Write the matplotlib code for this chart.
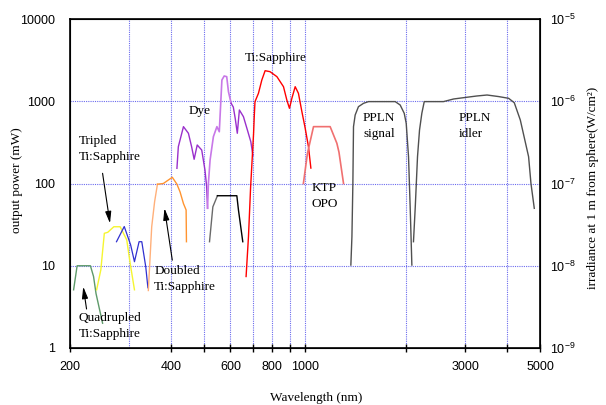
import matplotlib
matplotlib.use('Agg')
import matplotlib.pyplot as plt
from matplotlib.ticker import FixedLocator, NullFormatter, NullLocator

# wavelength (nm) / output power (mW)
quad_wl = [205, 210, 230, 235, 239, 250]
quad_mw = [5.1, 10, 10, 7.4, 4.6, 2.0]

trip_wl = [240, 247, 253, 259, 270, 282, 295, 302, 311]
trip_mw = [5.1, 8.9, 24.8, 25.5, 29.8, 29.8, 20.6, 10.7, 5.1]

blue_wl = [275, 290, 303, 311, 321, 327, 336, 341]
blue_mw = [19.6, 30, 17.9, 11.2, 19.6, 19.6, 9.7, 5.4]

dbl_light_wl = [342, 350, 357, 364]
dbl_light_mw = [5, 29.8, 60, 98]
dbl_wl = [364, 379, 403, 416, 425, 435, 443, 444]
dbl_mw = [98, 100, 119, 98, 79, 57, 47.6, 19.6]

dye_a_wl = [416, 420, 435, 450, 460, 468, 478, 493, 504, 510, 513]
dye_a_mw = [153, 280, 491, 408, 280, 197, 294, 255, 146, 91, 50]
dye_b_wl = [513, 516, 522, 534, 547, 556, 566, 575, 585, 592, 603]
dye_b_mw = [50, 100, 193, 371, 491, 426, 1812, 2028, 1990, 1307, 944]
dye_c_wl = [603, 612, 620, 629, 638, 656, 674, 690, 700]
dye_c_mw = [944, 850, 620, 408, 783, 649, 447, 322, 220]

blk_gray_wl = [520, 532, 549]
blk_gray_mw = [19.6, 52, 71]
blk_wl = [549, 627, 634, 653]
blk_mw = [71, 71, 47.6, 19.6]

tisa_wl = [668, 679, 689, 696, 703, 707, 710, 727, 744, 761, 787, 825, 863,
           883, 899, 914, 935, 956, 979, 1001, 1024, 1041]
tisa_mw = [7.4, 22.6, 90, 190, 400, 700, 988, 1249, 1812, 2352, 2288, 1990,
           1503, 1035, 821, 1086, 1503, 1249, 746, 473, 280, 154]

ktp_wl = [989, 1017, 1060, 1188, 1244, 1262, 1302]
ktp_mw = [100, 233, 491, 491, 308, 240, 100]

sig_wl = [1369, 1379, 1388, 1394, 1410, 1442, 1493, 1545, 1855, 1919, 1973,
          2000, 2032, 2055, 2079]
sig_mw = [10.2, 22.6, 100, 491, 680, 859, 944, 990, 990, 900, 714, 539, 212,
          52, 10.2]

idl_wl = [2102, 2128, 2161, 2191, 2226, 2263, 2582, 2766, 2962, 3246, 3479,
          3766, 4033, 4192, 4369, 4624, 4700, 4808]
idl_mw = [19.6, 52, 212, 447, 714, 990, 990, 1065, 1105, 1159, 1191, 1140,
          1086, 960, 592, 212, 100, 49.9]

xtick_vals = [200, 400, 600, 800, 1000, 3000, 5000]
xminor_vals = [500, 700, 900, 2000, 4000]
xgrid_vals = [300, 400, 500, 600, 700, 800, 900, 1000, 2000, 3000, 4000]
ytick_vals = [1, 10, 100, 1000, 10000]
ygrid_vals = [10, 100, 1000]
irr_ticks = [1e-9, 1e-8, 1e-7, 1e-6, 1e-5]

plt.rcParams['font.family'] = ['Liberation Sans', 'DejaVu Sans']
plt.rcParams['mathtext.default'] = 'regular'
serif = ['Liberation Serif', 'DejaVu Serif']

fig = plt.figure(figsize=(6.06, 4.05), dpi=100)
ax = fig.add_axes([70/606, 1 - 348/405, 470/606, 329/405])

grid = dict(color='#3a3ae8', linestyle=(0, (1, 1)), lw=0.8, alpha=0.75,
            zorder=0)
for g in xgrid_vals:
    ax.axvline(g, **grid)
for g in ygrid_vals:
    ax.axhline(g, **grid)

ax.plot(quad_wl, quad_mw, color='#5e9a6a', lw=1.0)
ax.plot(trip_wl, trip_mw, color='#f5f530', lw=1.0)
ax.plot(blue_wl, blue_mw, color='#3030d0', lw=0.9)
ax.plot(dbl_light_wl, dbl_light_mw, color='#ffb07a', lw=1.0)
ax.plot(dbl_wl, dbl_mw, color='#ff9430', lw=1.0)
ax.plot(dye_a_wl, dye_a_mw, color='#9a30cc', lw=1.0)
ax.plot(dye_b_wl, dye_b_mw, color='#c878e8', lw=1.2)
ax.plot(dye_c_wl, dye_c_mw, color='#9a30cc', lw=1.0)
ax.plot(blk_gray_wl, blk_gray_mw, color='#6a6a6a', lw=1.0)
ax.plot(blk_wl, blk_mw, color='black', lw=1.0)
ax.plot(tisa_wl, tisa_mw, color='#ff0000', lw=1.0)
ax.plot(ktp_wl, ktp_mw, color='#f07070', lw=1.2)
ax.plot(sig_wl, sig_mw, color='#505050', lw=1.0)
ax.plot(idl_wl, idl_mw, color='#505050', lw=1.0)

ax.set_xscale('log')
ax.set_yscale('log')
ax.set_xlim(200, 5000)
ax.set_ylim(1, 10000)

ax.xaxis.set_major_locator(FixedLocator(xtick_vals))
ax.xaxis.set_minor_locator(FixedLocator(xminor_vals))
ax.set_xticklabels([str(v) for v in xtick_vals])
ax.xaxis.set_minor_formatter(NullFormatter())
ax.yaxis.set_major_locator(FixedLocator(ytick_vals))
ax.yaxis.set_minor_locator(NullLocator())
ax.set_yticklabels([str(v) for v in ytick_vals])

ax.tick_params(axis='x', which='both', direction='inout', length=6, width=1,
               labelsize=9, pad=6)
ax.tick_params(axis='y', length=0, labelsize=9, pad=11)
for s in ax.spines.values():
    s.set_linewidth(1.2)

ax2 = ax.twinx()
ax2.set_yscale('log')
ax2.set_ylim(1e-9, 1e-5)
ax2.yaxis.set_major_locator(FixedLocator(irr_ticks))
ax2.yaxis.set_minor_locator(NullLocator())
ax2.tick_params(axis='y', length=0, labelsize=9, pad=7)

txt = dict(family=serif, fontsize=9.5)
arr = dict(arrowstyle='-|>,head_length=0.7,head_width=0.18', color='black',
           lw=0.8, shrinkA=0, shrinkB=0)

ax.text(212.7, 263, 'Tripled\nTi:Sapphire', ha='left', va='center',
        linespacing=1.45, **txt)
ax.annotate('', xy=(263, 32.8), xytext=(250, 133), arrowprops=arr)
ax.text(212.7, 1.84, 'Quadrupled\nTi:Sapphire', ha='left', va='center',
        linespacing=1.45, **txt)
ax.annotate('', xy=(219, 5.56), xytext=(224, 2.98), arrowprops=arr)
ax.text(356, 6.9, 'Doubled\nTi:Sapphire', ha='left', va='center',
        linespacing=1.45, **txt)
ax.annotate('', xy=(382, 49.9), xytext=(403, 11.7), arrowprops=arr)
ax.text(486, 768, 'Dye', ha='center', va='center', **txt)
ax.text(820, 3327, 'Ti:Sapphire', ha='center', va='center', **txt)
ax.text(1048, 70.8, 'KTP\nOPO', ha='left', va='center', linespacing=1.45,
        **txt)
ax.text(1662, 496, 'PPLN\nsignal', ha='center', va='center',
        linespacing=1.45, **txt)
ax.text(2862, 497, 'PPLN\nidler', ha='left', va='center', linespacing=1.45,
        **txt)

fig.text(17/606, 1 - 180/405, 'output power (mW)', rotation=90,
         ha='center', va='center', **txt)
fig.text(316/606, 1 - 398/405, 'Wavelength (nm)', ha='center', va='center',
         **txt)
fig.text(593/606, 1 - 188/405, 'irradiance at 1 m from sphere(W/cm²)',
         rotation=90, ha='center', va='center', **txt)

fig.savefig('out.png', dpi=100)
